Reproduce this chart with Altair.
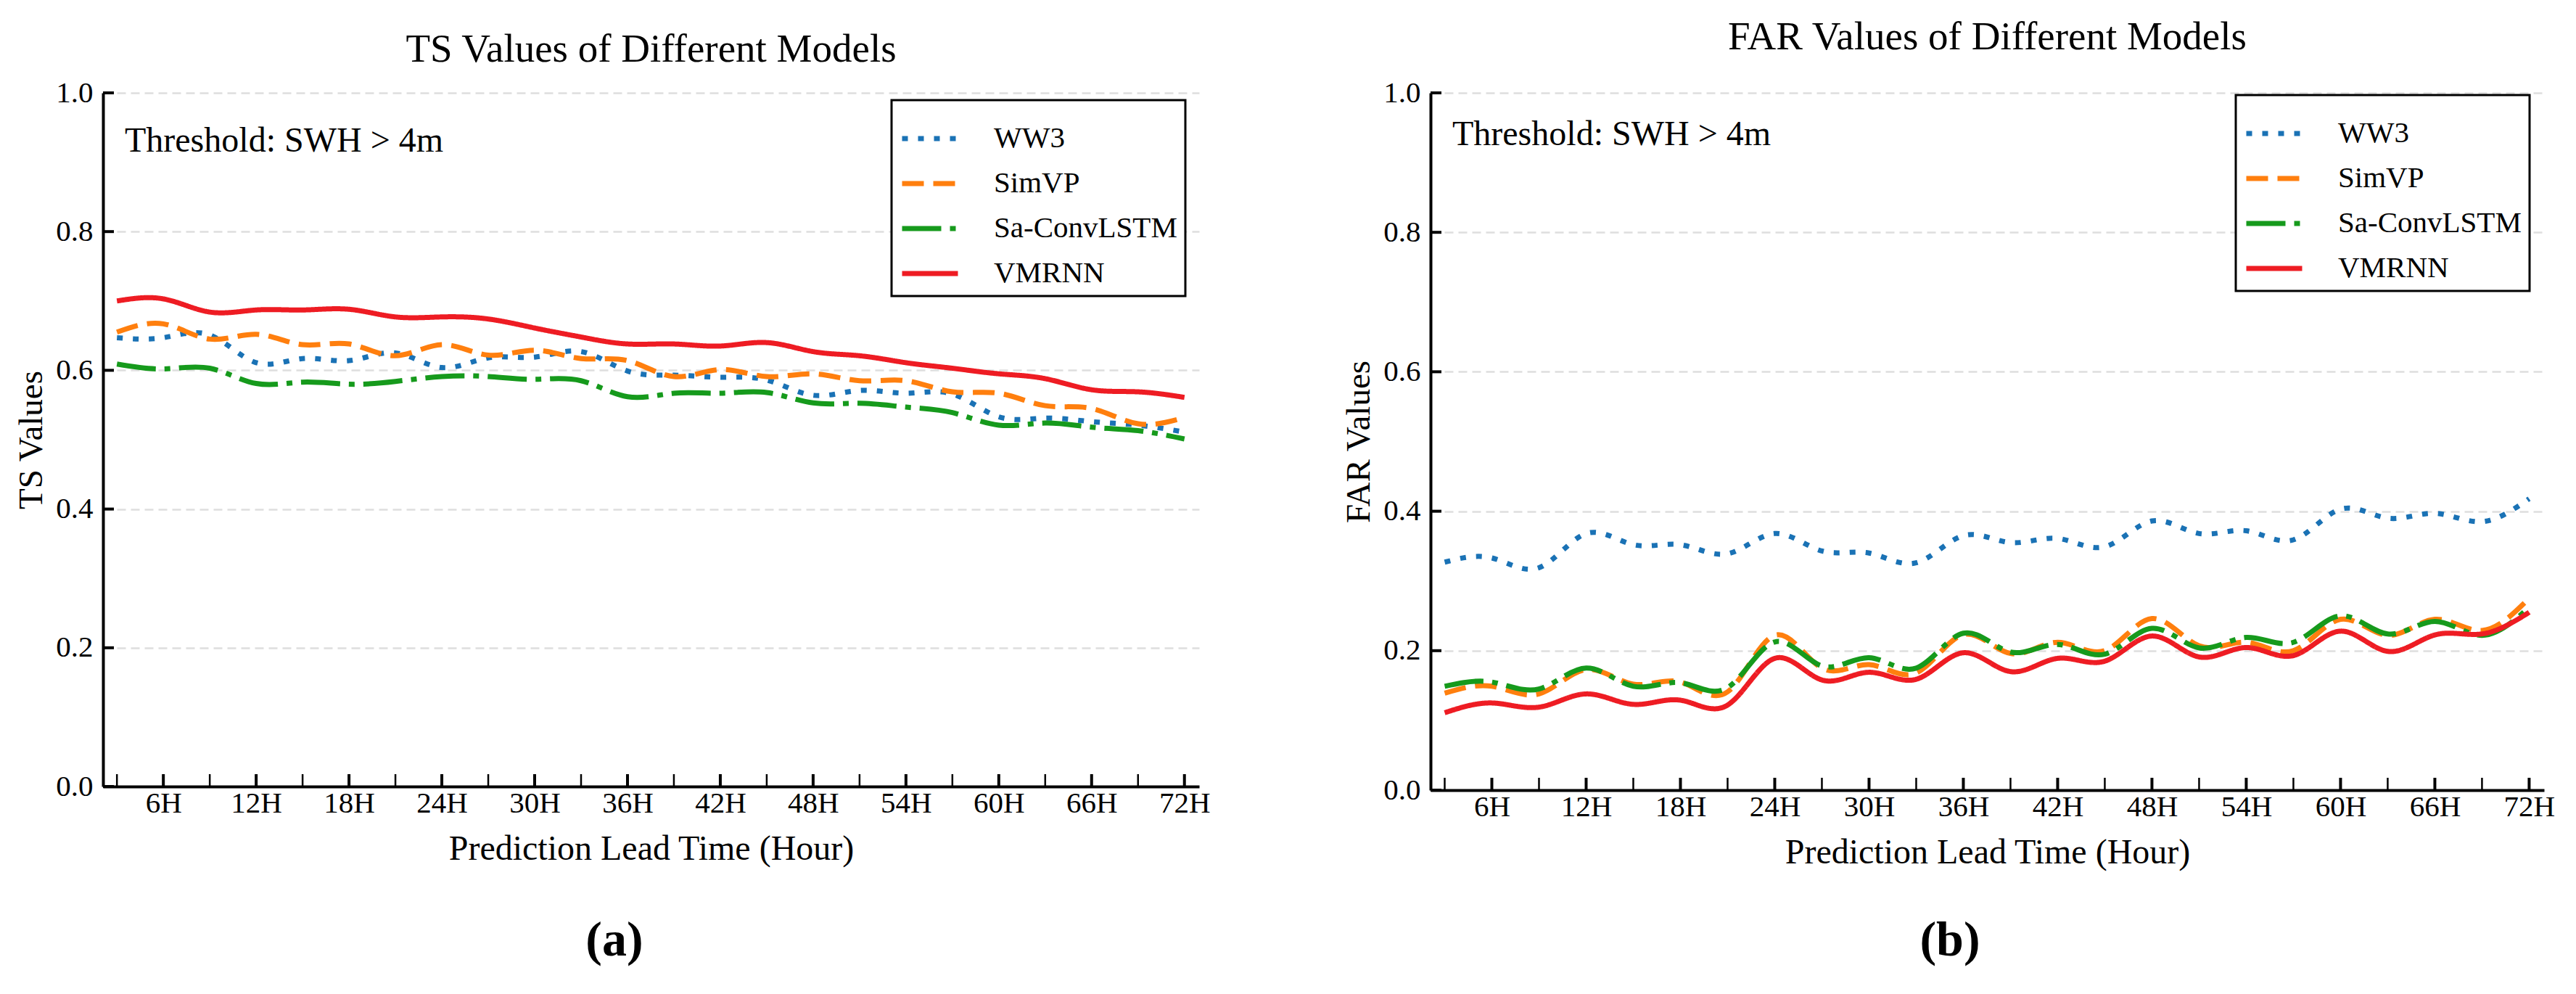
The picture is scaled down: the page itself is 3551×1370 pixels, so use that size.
import altair as alt
import pandas as pd

FONT = "Liberation Serif"

hours = [3, 6, 9, 12, 15, 18, 21, 24, 27, 30, 33, 36, 39, 42, 45, 48, 51, 54, 57, 60, 63, 66, 69, 72]
models = ["WW3", "SimVP", "Sa-ConvLSTM", "VMRNN"]
colors = ["#1a72b5", "#ff7f0e", "#169a1c", "#ee1c23"]
dashes = [[8, 14], [30, 13], [54, 12, 8, 12], [1, 0]]

ts_ww3 = [0.647, 0.647, 0.651, 0.611, 0.617, 0.614, 0.625, 0.604, 0.618, 0.619, 0.627, 0.599,
          0.593, 0.590, 0.586, 0.564, 0.571, 0.567, 0.566, 0.533, 0.531, 0.526, 0.521, 0.511]
ts_simvp = [0.655, 0.667, 0.645, 0.652, 0.637, 0.638, 0.621, 0.637, 0.622, 0.629, 0.617, 0.614,
            0.591, 0.601, 0.591, 0.595, 0.585, 0.585, 0.569, 0.567, 0.549, 0.545, 0.523, 0.532]
ts_saconv = [0.609, 0.602, 0.603, 0.581, 0.583, 0.580, 0.584, 0.591, 0.591, 0.587, 0.585, 0.562,
             0.567, 0.567, 0.568, 0.553, 0.5525, 0.547, 0.539, 0.521, 0.524, 0.518, 0.513, 0.501]
ts_vmrnn = [0.700, 0.703, 0.684, 0.687, 0.687, 0.688, 0.677, 0.677, 0.674, 0.661, 0.648, 0.638,
            0.638, 0.635, 0.640, 0.627, 0.621, 0.611, 0.603, 0.595, 0.588, 0.572, 0.569, 0.561]

far_ww3 = [0.327, 0.333, 0.319, 0.368, 0.352, 0.352, 0.339, 0.368, 0.343, 0.340, 0.326, 0.365,
           0.355, 0.361, 0.349, 0.386, 0.368, 0.372, 0.359, 0.403, 0.390, 0.397, 0.385, 0.418]
far_simvp = [0.139, 0.149, 0.138, 0.173, 0.152, 0.155, 0.141, 0.222, 0.175, 0.180, 0.168, 0.223,
             0.196, 0.212, 0.200, 0.246, 0.207, 0.212, 0.200, 0.245, 0.222, 0.245, 0.229, 0.275]
far_saconv = [0.149, 0.155, 0.145, 0.175, 0.149, 0.154, 0.147, 0.2125, 0.178, 0.190, 0.175, 0.225,
              0.198, 0.209, 0.195, 0.232, 0.204, 0.219, 0.212, 0.250, 0.224, 0.242, 0.222, 0.262]
far_vmrnn = [0.111, 0.125, 0.119, 0.138, 0.123, 0.129, 0.122, 0.189, 0.158, 0.169, 0.159, 0.197,
             0.170, 0.189, 0.185, 0.221, 0.191, 0.2045, 0.193, 0.228, 0.199, 0.2226, 0.224, 0.255]

x_major = [6, 12, 18, 24, 30, 36, 42, 48, 54, 60, 66, 72]
x_minor = [3, 9, 15, 21, 27, 33, 39, 45, 51, 57, 63, 69]
y_ticks = [0.0, 0.2, 0.4, 0.6, 0.8, 1.0]

xtitle = "Prediction Lead Time (Hour)"
threshold_text = "Threshold: SWH > 4m"


def long_df(series):
    rows = []
    for m, vals in zip(models, series):
        for h, v in zip(hours, vals):
            rows.append({"hour": h, "value": v, "model": m})
    return pd.DataFrame(rows)


def panel(series, title, title_offset, ytitle, width, height, leg_x, leg_y, thr_y,
          plabel, plabel_x, plabel_y):
    df = long_df(series)
    xscale = alt.Scale(domain=[2.1, 72.95], nice=False, zero=False)
    yscale = alt.Scale(domain=[0, 1], nice=False, zero=True)
    legend = alt.Legend(
        title=None, orient="none", legendX=leg_x, legendY=leg_y, strokeColor="black", fillColor="white",
        padding=11, symbolType="stroke", symbolSize=5929, symbolStrokeWidth=7,
        labelFontSize=41, labelFont=FONT, labelColor="black", labelOffset=46, rowPadding=0,
        labelLimit=0,
    )
    lines = alt.Chart(df).mark_line(strokeWidth=7, interpolate="natural", strokeCap="butt").encode(
        x=alt.X("hour:Q", scale=xscale, title=xtitle,
                axis=alt.Axis(values=x_major, labelExpr="datum.value + 'H'", grid=False, ticks=False,
                              labelPadding=3, titlePadding=19, titleFontSize=48, labelFlush=False,
                              labelOverlap=False)),
        y=alt.Y("value:Q", scale=yscale, title=ytitle,
                axis=alt.Axis(values=y_ticks, format=".1f", grid=True, ticks=False, labelPadding=14,
                              titlePadding=9, titleFontSize=47, labelFlush=False, labelOverlap=False)),
        color=alt.Color("model:N", scale=alt.Scale(domain=models, range=colors), legend=legend),
        strokeDash=alt.StrokeDash("model:N", scale=alt.Scale(domain=models, range=dashes), legend=legend),
    )
    tmaj = alt.Chart(pd.DataFrame({"hour": x_major})).mark_rule(color="black", strokeWidth=4).encode(
        x=alt.X("hour:Q", title=xtitle), y=alt.value(height), y2=alt.value(height - 17))
    tmin = alt.Chart(pd.DataFrame({"hour": x_minor})).mark_rule(color="black", strokeWidth=2.5).encode(
        x=alt.X("hour:Q", title=xtitle), y=alt.value(height), y2=alt.value(height - 17))
    ytk = alt.Chart(pd.DataFrame({"value": y_ticks})).mark_rule(color="black", strokeWidth=4).encode(
        y=alt.Y("value:Q", title=ytitle), x=alt.value(0), x2=alt.value(15))
    thr = alt.Chart(pd.DataFrame({"t": [threshold_text]})).mark_text(
        align="left", baseline="alphabetic", fontSize=48, font=FONT, color="black").encode(
        text="t:N", x=alt.value(30), y=alt.value(thr_y))
    lab = alt.Chart(pd.DataFrame({"t": [plabel]})).mark_text(
        align="center", baseline="middle", fontSize=68, font=FONT, fontWeight="bold", color="black").encode(
        text="t:N", x=alt.value(plabel_x), y=alt.value(plabel_y))
    return alt.layer(lines, tmin, tmaj, ytk, thr, lab).properties(
        width=width, height=height,
        title=alt.TitleParams(text=title, fontSize=55, font=FONT,
                              fontWeight="normal", color="black", offset=title_offset,
                              anchor="middle", frame="group"),
    )


left = panel([ts_ww3, ts_simvp, ts_saconv, ts_vmrnn], "TS Values of Different Models", 10,
             "TS Values", 1511, 956, 1087, 10, 81, "(a)", 705, 1169)
right = panel([far_ww3, far_simvp, far_saconv, far_vmrnn], "FAR Values of Different Models", 27,
              "FAR Values", 1535, 961, 1110, 3, 72, "(b)", 716, 1169)

chart = alt.concat(left, right, columns=2, spacing=180).resolve_scale(
    color="independent", strokeDash="independent"
).properties(
    padding={"left": 19, "top": 23, "right": 10, "bottom": 10}
).configure(font=FONT).configure_view(stroke="transparent").configure_axis(
    labelFont=FONT, labelFontSize=41, labelColor="black", titleFont=FONT, titleFontWeight="normal",
    titleColor="black", domainColor="black", domainWidth=4, gridColor="#dedede", gridDash=[12, 7],
    gridWidth=2.5,
).configure_legend(strokeWidth=3)

chart.save("out.html", embed_options={"renderer": "svg", "actions": False})
